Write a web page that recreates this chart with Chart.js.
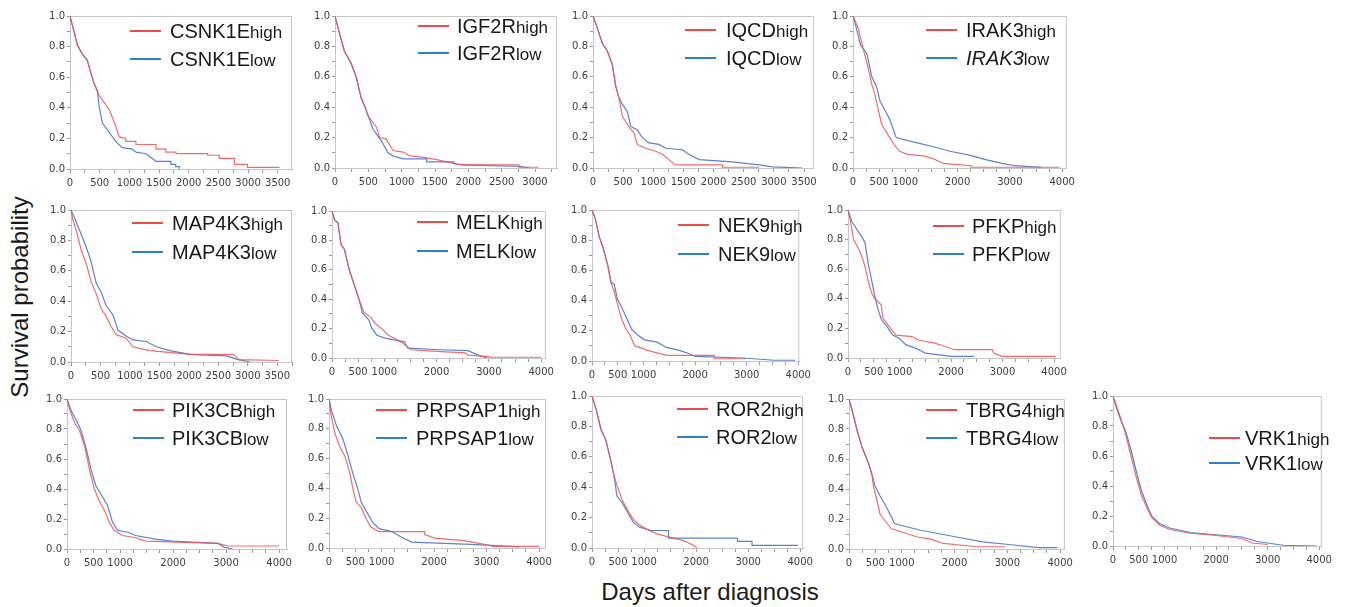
<!DOCTYPE html>
<html>
<head>
<meta charset="utf-8">
<script src="https://cdn.jsdelivr.net/npm/chart.js@4/dist/chart.umd.min.js"></script>
<style>
  body { margin: 0; background: #fff; width: 1353px; height: 607px; position: relative; overflow: hidden;
         font-family: "Liberation Sans", Arial, sans-serif; color: #1a1a1a; }
  canvas { position: absolute; }
  .title { position: absolute; font-size: 24px; white-space: nowrap; }
  #ytitle { left: 20px; top: 297px; transform: translate(-50%, -50%) rotate(-90deg); }
  #xtitle { left: 710px; top: 592px; transform: translate(-50%, -50%); }
</style>
</head>
<body>
<div id="ytitle" class="title">Survival probability</div>
<div id="xtitle" class="title">Days after diagnosis</div>
<script>
// Gene names (legend labels)
const GENES = ["CSNK1E", "IGF2R", "IQCD", "IRAK3", "MAP4K3", "MELK", "NEK9", "PFKP",
               "PIK3CB", "PRPSAP1", "ROR2", "TBRG4", "VRK1"];
const GROUPS = ["high", "low"];

// x tick labels
const TICKS_3000 = [0, 500, 1000, 1500, 2000, 2500, 3000];
const TICKS_3500 = [0, 500, 1000, 1500, 2000, 2500, 3000, 3500];
const TICKS_4000 = [0, 500, 1000, 2000, 3000, 4000];
const Y_TICKS = [0, 0.2, 0.4, 0.6, 0.8, 1.0];

// Survival curves, [days, survival]
const CSNK1E_EARLY = [[0, 1], [67, 0.9], [124, 0.81], [208, 0.75], [292, 0.71], [349, 0.63], [405, 0.56], [461, 0.51]];
const CSNK1E_HIGH = CSNK1E_EARLY.concat([[490, 0.48], [660, 0.39], [770, 0.28], [830, 0.21], [940, 0.2], [940, 0.18], [1110, 0.18],
  [1110, 0.16], [1450, 0.16], [1450, 0.13], [1615, 0.13], [1615, 0.11], [1785, 0.11], [1785, 0.1], [2320, 0.1], [2320, 0.09],
  [2515, 0.09], [2515, 0.07], [2770, 0.07], [2770, 0.03], [2990, 0.03], [2990, 0.01], [3530, 0.01]]);
const CSNK1E_LOW = CSNK1E_EARLY.concat([[490, 0.41], [545, 0.3], [660, 0.24], [770, 0.18], [880, 0.14], [1050, 0.13], [1110, 0.11],
  [1280, 0.1], [1330, 0.085], [1450, 0.05], [1700, 0.05], [1700, 0.03], [1780, 0.03], [1780, 0.015], [1840, 0.015], [1840, 0]]);

const IGF2R_EARLY = [[0, 1], [65, 0.89], [140, 0.77], [240, 0.69], [317, 0.6], [393, 0.46], [443, 0.41], [500, 0.34]];
const IGF2R_HIGH = IGF2R_EARLY.concat([[620, 0.27], [670, 0.2], [770, 0.19], [870, 0.115], [1020, 0.105], [1120, 0.08], [1325, 0.07],
  [1525, 0.055], [1830, 0.025], [2030, 0.02], [2760, 0.02], [2760, 0.005], [3050, 0.005]]);
const IGF2R_LOW = IGF2R_EARLY.concat([[570, 0.255], [645, 0.21], [720, 0.16], [795, 0.1], [870, 0.08], [1020, 0.06], [1375, 0.06],
  [1375, 0.04], [1780, 0.04], [1780, 0.03], [1880, 0.02], [2800, 0.01], [2910, 0]]);

const IQCD_EARLY = [[0, 1], [72, 0.92], [155, 0.82], [238, 0.77], [320, 0.68], [376, 0.54], [431, 0.46]];
const IQCD_HIGH = IQCD_EARLY.concat([[487, 0.34], [597, 0.27], [680, 0.23], [735, 0.155], [874, 0.13], [1040, 0.11], [1150, 0.09],
  [1260, 0.055], [1370, 0.02], [2150, 0.02], [2150, 0.005], [2755, 0.005]]);
const IQCD_LOW = IQCD_EARLY.concat([[487, 0.42], [570, 0.37], [625, 0.275], [735, 0.25], [818, 0.2], [930, 0.165], [1095, 0.155],
  [1205, 0.13], [1480, 0.12], [1590, 0.09], [1760, 0.055], [2310, 0.04], [2755, 0.02], [2975, 0.007], [3470, 0]]);

const IRAK3_HIGH = [[0, 1], [50, 0.96], [100, 0.92], [205, 0.77], [267, 0.69], [360, 0.55], [423, 0.48], [485, 0.38], [547, 0.29],
  [610, 0.25], [703, 0.2], [796, 0.15], [890, 0.11], [1045, 0.09], [1356, 0.08], [1542, 0.06], [1730, 0.03], [2257, 0.015],
  [2257, 0.005], [3950, 0.005]];
const IRAK3_LOW = [[0, 1], [50, 0.94], [143, 0.81], [267, 0.75], [360, 0.6], [454, 0.53], [516, 0.44], [610, 0.38], [703, 0.32],
  [765, 0.26], [827, 0.2], [1045, 0.18], [1231, 0.165], [1542, 0.14], [1853, 0.11], [2226, 0.085], [2537, 0.055], [2848, 0.03],
  [3097, 0.015], [3594, 0.005]];

const MAP4K3_HIGH = [[0, 1], [28, 0.94], [85, 0.87], [171, 0.74], [256, 0.65], [341, 0.53], [427, 0.45], [512, 0.35], [597, 0.3],
  [683, 0.23], [768, 0.18], [939, 0.155], [1052, 0.1], [1166, 0.09], [1337, 0.075], [2020, 0.05], [2760, 0.05], [2845, 0.015],
  [3527, 0.01]];
const MAP4K3_LOW = [[0, 1], [57, 0.95], [142, 0.87], [256, 0.76], [341, 0.66], [427, 0.52], [512, 0.46], [597, 0.37], [711, 0.31],
  [796, 0.21], [939, 0.17], [1052, 0.145], [1280, 0.135], [1450, 0.1], [1678, 0.075], [2020, 0.05], [2645, 0.04], [2816, 0.017],
  [3043, 0]];

const MELK_EARLY = [[0, 1], [50, 0.94], [112, 0.92], [174, 0.77], [236, 0.74], [330, 0.6], [423, 0.5], [516, 0.4]];
const MELK_HIGH = MELK_EARLY.concat([[610, 0.31], [734, 0.28], [827, 0.235], [951, 0.2], [1076, 0.155], [1200, 0.135], [1356, 0.1],
  [1511, 0.056], [2000, 0.045], [2550, 0.035], [2600, 0.02], [3004, 0.01], [3004, 0.005], [4000, 0.005]]);
const MELK_LOW = MELK_EARLY.concat([[578, 0.31], [703, 0.26], [765, 0.2], [858, 0.155], [1014, 0.135], [1387, 0.11], [1449, 0.067],
  [2071, 0.056], [2600, 0.05], [2818, 0.016], [2973, 0]]);

const NEK9_EARLY = [[0, 1], [62, 0.945], [142, 0.82], [215, 0.75], [308, 0.63], [369, 0.52]];
const NEK9_HIGH = NEK9_EARLY.concat([[431, 0.46], [492, 0.38], [554, 0.3], [646, 0.22], [738, 0.17], [830, 0.1], [1015, 0.08],
  [1077, 0.07], [1446, 0.037], [2370, 0.037], [2370, 0.015], [2985, 0.015]]);
const NEK9_LOW = NEK9_EARLY.concat([[431, 0.51], [492, 0.41], [585, 0.35], [677, 0.28], [769, 0.21], [892, 0.17], [1015, 0.14],
  [1262, 0.125], [1446, 0.09], [1692, 0.07], [1877, 0.05], [2000, 0.03], [2923, 0.02], [3538, 0.005], [3938, 0.005]]);

const PFKP_HIGH = [[0, 1], [44, 0.93], [108, 0.8], [203, 0.74], [266, 0.69], [329, 0.62], [392, 0.52], [456, 0.44], [519, 0.4],
  [646, 0.36], [677, 0.27], [804, 0.21], [930, 0.155], [1247, 0.145], [1373, 0.12], [1690, 0.1], [1880, 0.078], [2070, 0.056],
  [2800, 0.056], [2829, 0.033], [2987, 0.011], [4031, 0.011]];
const PFKP_LOW = [[0, 1], [76, 0.92], [171, 0.87], [266, 0.82], [329, 0.78], [392, 0.64], [456, 0.53], [519, 0.42], [582, 0.33],
  [646, 0.26], [740, 0.22], [867, 0.155], [994, 0.133], [1120, 0.09], [1310, 0.067], [1500, 0.033], [2006, 0.011], [2449, 0.011]];

const PIK3CB_HIGH = [[0, 1], [50, 0.93], [143, 0.84], [236, 0.79], [330, 0.69], [423, 0.53], [516, 0.4], [609, 0.32], [703, 0.26],
  [796, 0.18], [889, 0.125], [1045, 0.09], [1294, 0.075], [1480, 0.053], [2848, 0.037], [3035, 0.02], [4000, 0.02]];
const PIK3CB_LOW = [[0, 1], [81, 0.92], [174, 0.86], [267, 0.79], [361, 0.67], [454, 0.53], [547, 0.42], [640, 0.365], [765, 0.29],
  [858, 0.18], [952, 0.125], [1169, 0.11], [1294, 0.09], [1667, 0.066], [1978, 0.053], [2848, 0.037], [2972, 0.011], [3128, 0]];

const PRPSAP1_HIGH = [[0, 1], [31, 0.91], [112, 0.77], [205, 0.68], [298, 0.62], [392, 0.51], [454, 0.4], [516, 0.31], [609, 0.275],
  [703, 0.2], [796, 0.14], [951, 0.11], [1822, 0.11], [1822, 0.09], [2009, 0.066], [2569, 0.05], [2942, 0.026], [3128, 0.011],
  [4000, 0.011]];
const PRPSAP1_LOW = [[0, 1], [50, 0.92], [143, 0.82], [267, 0.73], [361, 0.62], [454, 0.5], [547, 0.4], [610, 0.31], [703, 0.25],
  [827, 0.175], [951, 0.13], [1200, 0.11], [1356, 0.077], [1573, 0.04], [2817, 0.022], [3625, 0.007]];

const ROR2_EARLY = [[0, 1], [80, 0.91], [173, 0.78], [265, 0.71], [358, 0.58], [420, 0.48]];
const ROR2_HIGH = ROR2_EARLY.concat([[481, 0.41], [574, 0.32], [667, 0.26], [790, 0.19], [883, 0.16], [1037, 0.126], [1253, 0.093],
  [1500, 0.07], [1747, 0.05], [1932, 0.022], [2025, 0]]);
const ROR2_LOW = ROR2_EARLY.concat([[481, 0.34], [574, 0.3], [667, 0.245], [790, 0.17], [914, 0.137], [1130, 0.115], [1470, 0.115],
  [1470, 0.065], [2796, 0.065], [2796, 0.043], [3074, 0.043], [3074, 0.017], [3957, 0.017]]);

const TBRG4_EARLY = [[0, 1], [62, 0.92], [154, 0.79], [247, 0.68], [370, 0.57], [432, 0.5]];
const TBRG4_HIGH = TBRG4_EARLY.concat([[463, 0.42], [525, 0.33], [586, 0.235], [679, 0.19], [802, 0.135], [988, 0.115], [1296, 0.08],
  [1543, 0.066], [1790, 0.037], [2407, 0.015], [2963, 0.015]]);
const TBRG4_LOW = TBRG4_EARLY.concat([[494, 0.42], [586, 0.355], [679, 0.3], [772, 0.235], [864, 0.17], [957, 0.16], [1358, 0.125],
  [2037, 0.08], [2531, 0.048], [3025, 0.03], [3580, 0.009], [3950, 0.009]]);

const VRK1_HIGH = [[0, 1], [50, 0.95], [150, 0.85], [250, 0.74], [350, 0.6], [450, 0.46], [550, 0.34], [650, 0.26], [750, 0.19],
  [900, 0.14], [1100, 0.11], [1500, 0.085], [2000, 0.07], [2500, 0.05], [2700, 0.02], [3000, 0.01]];
const VRK1_LOW = [[0, 1], [60, 0.93], [150, 0.84], [250, 0.76], [350, 0.64], [450, 0.5], [550, 0.37], [650, 0.28], [750, 0.2],
  [900, 0.15], [1100, 0.12], [1500, 0.09], [2000, 0.075], [2500, 0.06], [2800, 0.03], [3000, 0.02], [3300, 0.005], [3950, 0]];

const SERIES = [
  [CSNK1E_HIGH, CSNK1E_LOW], [IGF2R_HIGH, IGF2R_LOW], [IQCD_HIGH, IQCD_LOW], [IRAK3_HIGH, IRAK3_LOW],
  [MAP4K3_HIGH, MAP4K3_LOW], [MELK_HIGH, MELK_LOW], [NEK9_HIGH, NEK9_LOW], [PFKP_HIGH, PFKP_LOW],
  [PIK3CB_HIGH, PIK3CB_LOW], [PRPSAP1_HIGH, PRPSAP1_LOW], [ROR2_HIGH, ROR2_LOW], [TBRG4_HIGH, TBRG4_LOW],
  [VRK1_HIGH, VRK1_LOW],
];
const X_MAX = [3740, 3330, 3665, 4090, 3750, 4090, 4020, 4130, 4150, 4130, 4055, 4090, 4050];
const X_LABELS = [TICKS_3500, TICKS_3000, TICKS_3500, TICKS_4000, TICKS_3500, TICKS_4000, TICKS_4000,
                  TICKS_4000, TICKS_4000, TICKS_4000, TICKS_4000, TICKS_4000, TICKS_4000];

// Layout: plot area [left, top, right, bottom], legend [lineX, redY, blueY, textX] in page pixels
const AREAS = [
  [70, 14, 292, 169], [335, 14, 557, 168], [593, 14, 815, 168], [853, 14, 1073, 168],
  [71, 208, 292, 362], [332, 209, 552, 358], [592, 208, 809, 361], [848, 208, 1065, 358],
  [67, 397, 290, 549], [329, 397, 550, 548], [592, 394, 811, 548], [849, 397, 1071, 549],
  [1113, 394, 1330, 546],
];
const LEGENDS = [
  [130, 31, 59, 170], [418, 26, 53, 457], [685, 30, 58, 726], [926, 30, 58, 966],
  [132, 223, 252, 172], [417, 222, 251, 456], [678, 225, 254, 718], [933, 226, 254, 972],
  [133, 410, 438, 172], [376, 410, 438, 416], [677, 409, 437, 716], [926, 410, 438, 966],
  [1209, 438, 463, 1245],
];

const RED = "rgba(236, 84, 84, 0.85)";
const BLUE = "rgba(62, 108, 205, 0.85)";
const LEG_RED = "#ef4a4a";
const LEG_BLUE = "#2f7fd0";
const PAD_L = 34, PAD_T = 6, PAD_R = 6, PAD_B = 22;
const TICK_FONT = { family: "'DejaVu Sans', Tahoma, sans-serif", size: 10 };

const makePanel = (i) => {
  const [l, t, r, b] = AREAS[i];
  const canvas = document.createElement("canvas");
  const w = r - l + PAD_L + PAD_R;
  const h = b - t + PAD_T + PAD_B;
  canvas.width = w;
  canvas.height = h;
  canvas.style.left = (l - PAD_L) + "px";
  canvas.style.top = (t - PAD_T) + "px";
  document.body.appendChild(canvas);

  const gene = GENES[i];
  const labels = X_LABELS[i];
  const [lx, ry, by, tx] = LEGENDS[i];

  // frame + legend
  const panelPlugin = {
    id: "panel" + i,
    beforeDatasetsDraw(chart) {
      const { ctx, chartArea: a } = chart;
      ctx.save();
      ctx.strokeStyle = "#c6c6c6";
      ctx.lineWidth = 1;
      ctx.strokeRect(a.left + 0.5, a.top + 0.5, a.right - a.left - 1, a.bottom - a.top);
      ctx.restore();
    },
    afterDraw(chart) {
      const ctx = chart.ctx;
      const ox = l - PAD_L, oy = t - PAD_T;
      ctx.save();
      [[ry, LEG_RED, GROUPS[0]], [by, LEG_BLUE, GROUPS[1]]].forEach(([y, col, grp], k) => {
        const yy = y - oy;
        ctx.strokeStyle = col;
        ctx.lineWidth = 2;
        ctx.beginPath();
        ctx.moveTo(lx - ox, yy);
        ctx.lineTo(lx - ox + 31, yy);
        ctx.stroke();
        ctx.fillStyle = "#1a1a1a";
        ctx.textBaseline = "alphabetic";
        const italic = gene === "IRAK3" && k === 1 ? "italic " : "";
        ctx.font = italic + "20px 'Liberation Sans', Arial, sans-serif";
        ctx.fillText(gene, tx - ox, yy + 7);
        const gw = ctx.measureText(gene).width;
        ctx.font = "17px 'Liberation Sans', Arial, sans-serif";
        ctx.fillText(grp, tx - ox + gw, yy + 7);
      });
      ctx.restore();
    },
  };

  const DATA = {
    datasets: [
      { label: gene + GROUPS[0], data: SERIES[i][0], borderColor: RED },
      { label: gene + GROUPS[1], data: SERIES[i][1], borderColor: BLUE },
    ],
  };

  const CONFIG = {
    type: "line",
    data: DATA,
    plugins: [panelPlugin],
    options: {
      responsive: false,
      animation: false,
      devicePixelRatio: 1,
      layout: { padding: { left: 0, top: PAD_T, right: PAD_R, bottom: 0 } },
      elements: {
        line: { borderWidth: 1.2, tension: 0 },
        point: { radius: 0 },
      },
      plugins: { legend: { display: false }, tooltip: { enabled: false } },
      scales: {
        x: {
          type: "linear",
          min: 0,
          max: X_MAX[i],
          afterBuildTicks: (axis) => {
            const ticks = [];
            for (let v = 0; v <= X_MAX[i]; v += 250) ticks.push({ value: v });
            axis.ticks = ticks;
          },
          afterFit: (axis) => { axis.height = PAD_B; },
          border: { display: true, color: "#a8a8a8" },
          grid: { drawOnChartArea: false, drawTicks: true, tickLength: 4, color: "#9a9a9a" },
          ticks: {
            autoSkip: false,
            maxRotation: 0,
            padding: 4,
            color: "#404040",
            font: TICK_FONT,
            callback: (v) => (labels.includes(v) ? String(v) : ""),
          },
        },
        y: {
          min: 0,
          max: 1,
          afterBuildTicks: (axis) => {
            const ticks = [];
            for (let k = 0; k <= 10; k++) ticks.push({ value: k / 10 });
            axis.ticks = ticks;
          },
          afterFit: (axis) => { axis.width = PAD_L; },
          border: { display: true, color: "#a8a8a8" },
          grid: { drawOnChartArea: false, drawTicks: true, tickLength: 3, color: "#9a9a9a" },
          ticks: {
            autoSkip: false,
            padding: 2,
            color: "#404040",
            font: TICK_FONT,
            callback: (v) => (Y_TICKS.some((y) => Math.abs(y - v) < 1e-6) ? v.toFixed(1) : ""),
          },
        },
      },
    },
  };

  return new Chart(canvas, CONFIG);
};

GENES.forEach((g, i) => makePanel(i));
</script>
</body>
</html>
